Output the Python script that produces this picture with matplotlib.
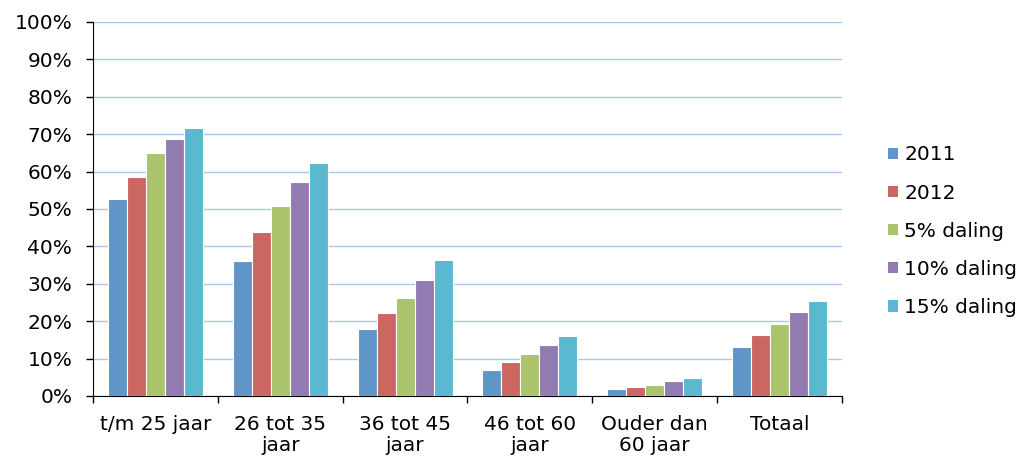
import numpy as np
import matplotlib.pyplot as plt
from matplotlib.patches import Patch

categorieen = ['t/m 25 jaar', '26 tot 35\njaar', '36 tot 45\njaar', '46 tot 60\njaar', 'Ouder dan\n60 jaar', 'Totaal']
reeksen = ['2011', '2012', '5% daling', '10% daling', '15% daling']
j2011 = [52.7, 36.1, 17.9, 6.9, 2.0, 13.1]
j2012 = [58.6, 43.9, 22.2, 9.0, 2.5, 16.3]
daling5 = [65.0, 50.8, 26.3, 11.2, 2.9, 19.3]
daling10 = [68.7, 57.2, 31.1, 13.5, 3.9, 22.4]
daling15 = [71.7, 62.3, 36.4, 16.0, 4.9, 25.4]
kleuren = ['#5F95C9', '#CC6660', '#ABC46B', '#927BB0', '#5BB8D1']

plt.rcParams['font.family'] = ['DejaVu Sans']
fs = 14.5
fig = plt.figure(figsize=(10.28, 4.57), dpi=100)
ax = fig.add_axes([0.0905, 0.1335, 0.7285, 0.8185])

x = np.arange(len(categorieen))
w = 0.152
for i, (vals, c) in enumerate(zip([j2011, j2012, daling5, daling10, daling15], kleuren)):
    ax.bar(x + (i - 2) * w, vals, width=w, color=c, edgecolor='white', linewidth=0.8, zorder=3)

ax.set_xlim(-0.5, len(categorieen) - 0.5)
ax.set_ylim(0, 100)
ax.set_yticks(np.arange(0, 101, 10))
ax.set_yticklabels([f'{v}%' for v in range(0, 101, 10)], fontsize=fs)
ax.yaxis.grid(True, color='#A8C8EA', linewidth=1, zorder=0)
ax.tick_params(axis='y', length=5, direction='out', width=1, pad=10)

ax.set_xticks(x)
ax.set_xticklabels(categorieen, fontsize=fs, linespacing=1.1)
ax.tick_params(axis='x', which='major', length=0, pad=14)
ax.set_xticks(np.arange(-0.5, len(categorieen)), minor=True)
ax.tick_params(axis='x', which='minor', length=5, width=1)

for s in ['top', 'right']:
    ax.spines[s].set_visible(False)
ax.spines['left'].set_color('black')
ax.spines['bottom'].set_color('black')

handles = [Patch(facecolor=c, label=r) for c, r in zip(kleuren, reeksen)]
fig.legend(handles=handles, loc='center left', bbox_to_anchor=(0.864, 0.494), frameon=False,
           fontsize=fs, handlelength=0.5, handleheight=0.5, handletextpad=0.3, labelspacing=0.95,
           borderaxespad=0, borderpad=0)

fig.savefig('out.png', dpi=100)
